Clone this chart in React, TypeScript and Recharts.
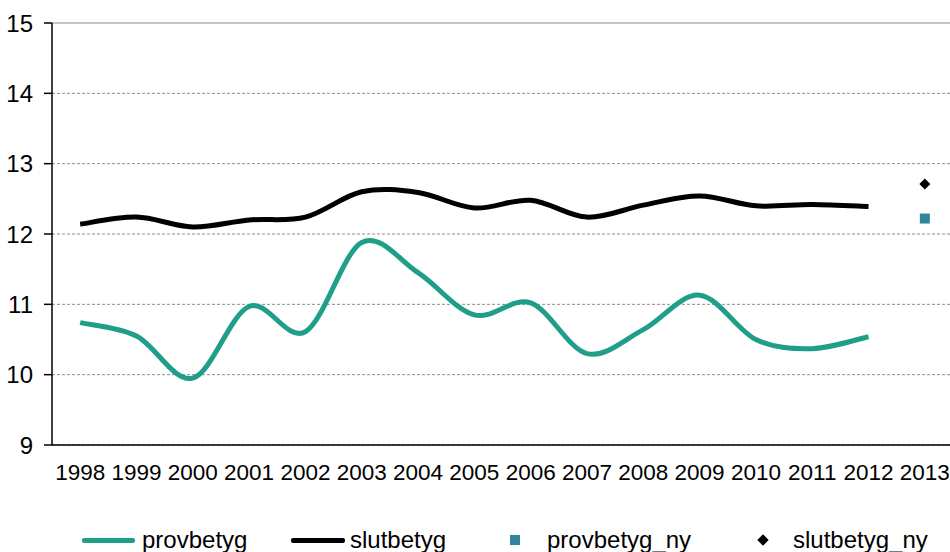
import React from "react";
import {
  ComposedChart,
  Line,
  XAxis,
  YAxis,
  CartesianGrid,
  ReferenceLine,
  Legend,
} from "recharts";

const years = [1998, 1999, 2000, 2001, 2002, 2003, 2004, 2005, 2006, 2007, 2008, 2009, 2010, 2011, 2012, 2013];
const provbetyg = [10.74, 10.55, 9.95, 10.97, 10.61, 11.88, 11.45, 10.85, 11.02, 10.3, 10.64, 11.13, 10.5, 10.37, 10.54, null];
const slutbetyg = [12.14, 12.24, 12.1, 12.2, 12.24, 12.6, 12.59, 12.37, 12.48, 12.24, 12.41, 12.54, 12.4, 12.42, 12.39, null];
const provbetygNy = [null, null, null, null, null, null, null, null, null, null, null, null, null, null, null, 12.22];
const slutbetygNy = [null, null, null, null, null, null, null, null, null, null, null, null, null, null, null, 12.71];
const yTicks = [9, 10, 11, 12, 13, 14, 15];

const data = years.map((year, i) => ({
  year,
  provbetyg: provbetyg[i],
  slutbetyg: slutbetyg[i],
  provbetyg_ny: provbetygNy[i],
  slutbetyg_ny: slutbetygNy[i],
}));

// boundaries between categories, for Excel-style tick marks
const boundaries = [...years.map((y) => y - 0.5), years[years.length - 1] + 0.5];
const domain = [boundaries[0], boundaries[boundaries.length - 1]];

const TEAL = "#1f9e88";
const SQUARE = "#31859c";
const FONT = "'Liberation Sans', Arial, sans-serif";

// Catmull-Rom style smoothing, close to Excel's smoothed line
const smoothCurve: any = (context: any) => {
  let xs: number[] = [];
  let ys: number[] = [];
  return {
    areaStart() {},
    areaEnd() {},
    lineStart() {
      xs = [];
      ys = [];
    },
    point(x: number, y: number) {
      xs.push(+x);
      ys.push(+y);
    },
    lineEnd() {
      const n = xs.length;
      if (!n) return;
      context.moveTo(xs[0], ys[0]);
      for (let i = 0; i < n - 1; i++) {
        const a = Math.max(i - 1, 0);
        const d = Math.min(i + 2, n - 1);
        const t = 1 / 6;
        context.bezierCurveTo(
          xs[i] + (xs[i + 1] - xs[a]) * t,
          ys[i] + (ys[i + 1] - ys[a]) * t,
          xs[i + 1] - (xs[d] - xs[i]) * t,
          ys[i + 1] - (ys[d] - ys[i]) * t,
          xs[i + 1],
          ys[i + 1]
        );
      }
    },
  };
};

const SquareDot = (props: any) => {
  const { cx, cy, value, index } = props;
  if (value == null || cy == null) return <g key={`s${index}`} />;
  return <rect key={`s${index}`} x={cx - 5} y={cy - 5} width={10} height={10} fill={SQUARE} />;
};

const DiamondDot = (props: any) => {
  const { cx, cy, value, index } = props;
  if (value == null || cy == null) return <g key={`d${index}`} />;
  return (
    <path
      key={`d${index}`}
      d={`M${cx},${cy - 5.5} L${cx + 5.5},${cy} L${cx},${cy + 5.5} L${cx - 5.5},${cy} Z`}
      fill="#000"
    />
  );
};

const textStyle: React.CSSProperties = {
  position: "absolute",
  top: 0,
  fontFamily: FONT,
  fontSize: 24,
  lineHeight: "24px",
  color: "#000",
  whiteSpace: "nowrap",
};

const LegendContent = () => (
  <div style={{ position: "relative", height: 69, width: 950 }}>
    <div style={{ position: "absolute", top: 45, left: 0, width: 950, height: 24 }}>
      <div style={{ position: "absolute", left: 82, top: 10, width: 53, height: 5, background: TEAL, borderRadius: 2 }} />
      <div style={{ ...textStyle, left: 142 }}>provbetyg</div>
      <div style={{ position: "absolute", left: 291, top: 10, width: 54, height: 5, background: "#000", borderRadius: 2 }} />
      <div style={{ ...textStyle, left: 350 }}>slutbetyg</div>
      <div style={{ position: "absolute", left: 510, top: 7, width: 10, height: 10, background: SQUARE }} />
      <div style={{ ...textStyle, left: 547 }}>provbetyg_ny</div>
      <div
        style={{
          position: "absolute",
          left: 759,
          top: 8,
          width: 8,
          height: 8,
          background: "#000",
          transform: "rotate(45deg)",
        }}
      />
      <div style={{ ...textStyle, left: 793 }}>slutbetyg_ny</div>
    </div>
  </div>
);

export default function App() {
  return (
    <div style={{ position: "absolute", left: 0, top: 0, width: 950, height: 552, overflow: "hidden", background: "#fff" }}>
      <ComposedChart width={953} height={552} data={data} margin={{ top: 23, right: 0, bottom: 0, left: 0 }}>
        <CartesianGrid vertical={false} stroke="#8c8c8c" strokeDasharray="3 2" />
        <XAxis
          xAxisId="grid"
          dataKey="year"
          type="number"
          domain={domain}
          ticks={boundaries}
          interval={0}
          tick={false}
          tickSize={8}
          height={8}
          axisLine={{ stroke: "#000", strokeWidth: 1.5 }}
          tickLine={{ stroke: "#000", strokeWidth: 1.5 }}
        />
        <XAxis
          xAxisId="labels"
          dataKey="year"
          type="number"
          domain={domain}
          ticks={years}
          interval={0}
          axisLine={false}
          tickLine={false}
          tickSize={0}
          tickMargin={11}
          height={30}
          tick={{ fill: "#000", fontSize: 22.5, fontFamily: FONT }}
        />
        <YAxis
          domain={[9, 15]}
          ticks={yTicks}
          interval={0}
          width={52}
          tickSize={8}
          tickMargin={11}
          axisLine={{ stroke: "#000", strokeWidth: 1.5 }}
          tickLine={{ stroke: "#000", strokeWidth: 1.5 }}
          tick={{ fill: "#000", fontSize: 24, fontFamily: FONT }}
        />
        <ReferenceLine xAxisId="grid" y={15} stroke="#c4c4c4" strokeWidth={2} />
        <Legend verticalAlign="bottom" align="left" height={69} content={<LegendContent />} />
        <Line
          xAxisId="grid"
          dataKey="provbetyg"
          type={smoothCurve}
          stroke={TEAL}
          strokeWidth={5}
          dot={false}
          isAnimationActive={false}
        />
        <Line
          xAxisId="grid"
          dataKey="slutbetyg"
          type={smoothCurve}
          stroke="#000"
          strokeWidth={5}
          dot={false}
          isAnimationActive={false}
        />
        <Line
          xAxisId="grid"
          dataKey="provbetyg_ny"
          stroke="none"
          dot={<SquareDot />}
          isAnimationActive={false}
        />
        <Line
          xAxisId="grid"
          dataKey="slutbetyg_ny"
          stroke="none"
          dot={<DiamondDot />}
          isAnimationActive={false}
        />
      </ComposedChart>
    </div>
  );
}
